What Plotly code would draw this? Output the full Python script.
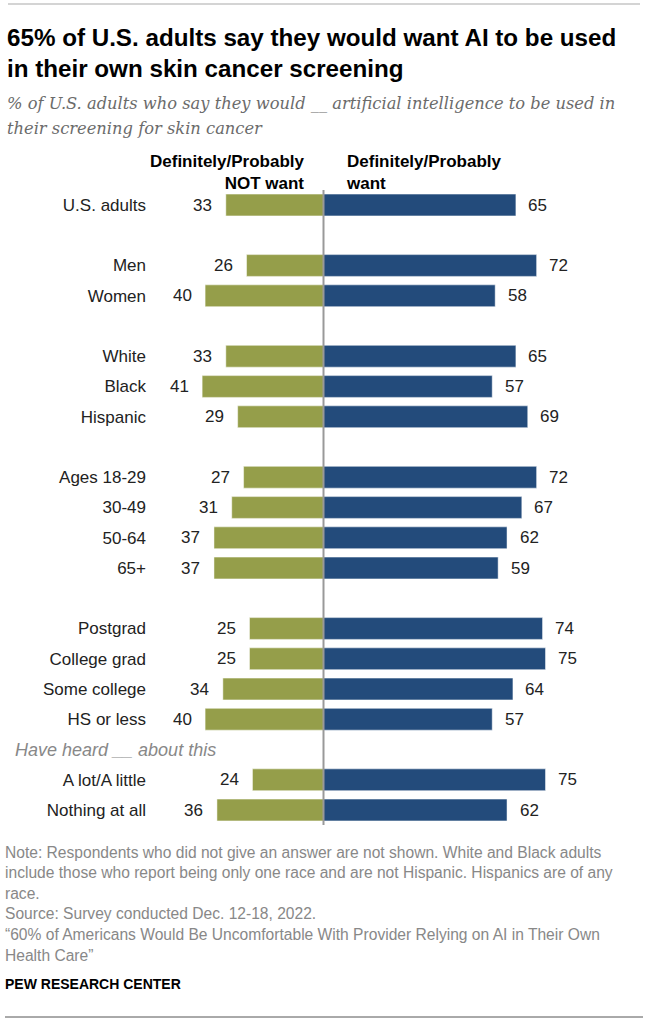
import plotly.graph_objects as go

# ---- data ----
groups = [
    ["U.S. adults"],
    ["Men", "Women"],
    ["White", "Black", "Hispanic"],
    ["Ages 18-29", "30-49", "50-64", "65+"],
    ["Postgrad", "College grad", "Some college", "HS or less"],
    ["A lot/A little", "Nothing at all"],
]
subheads = {5: "Have heard __ about this"}
not_want = [33, 26, 40, 33, 41, 29, 27, 31, 37, 37, 25, 25, 34, 40, 24, 36]
want = [65, 72, 58, 65, 57, 69, 72, 67, 62, 59, 74, 75, 64, 57, 75, 62]

title_lines = ["65% of U.S. adults say they would want AI to be used",
               "in their own skin cancer screening"]
subtitle_lines = ["% of U.S. adults who say they would __ artificial intelligence to be used in",
                  "their screening for skin cancer"]
header_left = "Definitely/Probably<br>NOT want"
header_right = "Definitely/Probably<br>want"
note_lines = [
    "Note: Respondents who did not give an answer are not shown. White and Black adults",
    "include those who report being only one race and are not Hispanic. Hispanics are of any",
    "race.",
    "Source: Survey conducted Dec. 12-18, 2022.",
    "\u201c60% of Americans Would Be Uncomfortable With Provider Relying on AI in Their Own",
    "Health Care\u201d",
]
credit = "PEW RESEARCH CENTER"

# ---- layout geometry ----
W, H = 648, 1024
OLIVE = "#959E4A"
NAVY = "#234B7B"
SANS = "Liberation Sans, Arial, sans-serif"
SERIF = "DejaVu Serif, Georgia, serif"

labels, slots, sub_slots = [], [], []
pos = 0
for gi, g in enumerate(groups):
    if gi > 0:
        if gi in subheads:
            sub_slots.append((pos, subheads[gi]))
        pos += 1
    for lab in g:
        labels.append(lab)
        slots.append(pos)
        pos += 1
nslots = pos

PLOT_TOP, PLOT_BOT = 190, 825
ROW0 = 205
STEP = (810 - 205) / (nslots - 1)
y_top = (PLOT_TOP - ROW0) / STEP
y_bot = (PLOT_BOT - ROW0) / STEP

ML, MR = 152, 8
CENTER = 323.5
PPU = 2.96
x_lo = -(CENTER - ML) / PPU
x_hi = (W - MR - CENTER) / PPU

def px_x(p):
    return (p - ML) / (W - ML - MR)

def px_y(p):
    return (PLOT_BOT - p) / (PLOT_BOT - PLOT_TOP)

fig = go.Figure()
fig.add_trace(go.Bar(
    y=slots, x=[-v for v in not_want], orientation="h", width=0.72,
    marker=dict(color=OLIVE, line=dict(color="rgba(255,255,255,0.6)", width=0.8)),
    hoverinfo="skip", showlegend=False))
fig.add_trace(go.Bar(
    y=slots, x=want, orientation="h", width=0.72,
    marker=dict(color=NAVY, line=dict(color="rgba(255,255,255,0.6)", width=0.8)),
    hoverinfo="skip", showlegend=False))

ann = []
# value labels, anchored to bar ends through the data axes
for s, v in zip(slots, not_want):
    ann.append(dict(text=str(v), xref="x", yref="y", x=-v, y=s, xshift=-11.5,
                    xanchor="right", yanchor="middle", showarrow=False,
                    font=dict(family=SANS, size=17, color="#222")))
for s, v in zip(slots, want):
    ann.append(dict(text=str(v), xref="x", yref="y", x=v, y=s, xshift=10.5,
                    xanchor="left", yanchor="middle", showarrow=False,
                    font=dict(family=SANS, size=17, color="#222")))

def add_text(text, xp, yp, size, color="#000", family=SANS, xanchor="left", align="left"):
    ann.append(dict(text=text, xref="paper", yref="paper", x=px_x(xp), y=px_y(yp),
                    xanchor=xanchor, yanchor="middle", align=align, showarrow=False,
                    font=dict(family=family, size=size, color=color)))

for i, t in enumerate(title_lines):
    add_text("<b>" + t + "</b>", 5, 38 + 30 * i, 24.2)
for i, t in enumerate(subtitle_lines):
    add_text("<i>" + t + "</i>", 5, 104 + 24 * i, 16.3, color="#6b6b6b", family=SERIF)

ann.append(dict(text="<b>" + header_left + "</b>", xref="x", yref="paper", x=0, xshift=-17,
                y=px_y(173), xanchor="right", yanchor="middle", align="right",
                showarrow=False, font=dict(family=SANS, size=17, color="#000")))
ann.append(dict(text="<b>" + header_right + "</b>", xref="x", yref="paper", x=0, xshift=20,
                y=px_y(173), xanchor="left", yanchor="middle", align="left",
                showarrow=False, font=dict(family=SANS, size=17, color="#000")))

for s, t in sub_slots:
    add_text("<i>" + t + "</i>", 13, ROW0 + STEP * s, 18, color="#888")

for i, t in enumerate(note_lines):
    add_text(t, 3, 852 + 20.6 * i, 15.6, color="#888")
add_text("<b>" + credit + "</b>", 3, 984, 14)

fig.update_layout(annotations=ann)

shapes = [
    dict(type="line", xref="x", yref="paper", x0=0, x1=0, y0=0, y1=1,
         line=dict(color="#999", width=2), layer="above"),
    dict(type="line", xref="paper", yref="paper", x0=px_x(8), x1=px_x(640),
         y0=px_y(4), y1=px_y(4), line=dict(color="#aaa", width=1.2)),
    dict(type="line", xref="paper", yref="paper", x0=px_x(5), x1=px_x(643),
         y0=px_y(1017), y1=px_y(1017), line=dict(color="#555", width=1)),
]
fig.update_layout(shapes=shapes)

fig.update_layout(
    width=W, height=H, barmode="relative",
    margin=dict(l=ML, r=MR, t=PLOT_TOP, b=H - PLOT_BOT, pad=0),
    paper_bgcolor="white", plot_bgcolor="white",
    xaxis=dict(range=[x_lo, x_hi], visible=False, fixedrange=True),
    yaxis=dict(range=[y_bot, y_top], tickvals=slots, ticktext=labels,
               showgrid=False, zeroline=False, showline=False, ticks="",
               ticklabelstandoff=5,
               tickfont=dict(family=SANS, size=17, color="#222"), fixedrange=True),
    font=dict(family=SANS),
)

fig.write_html("out.html", config={"displayModeBar": False},
               post_script="document.body.style.margin='0';document.body.style.overflow='hidden';")
